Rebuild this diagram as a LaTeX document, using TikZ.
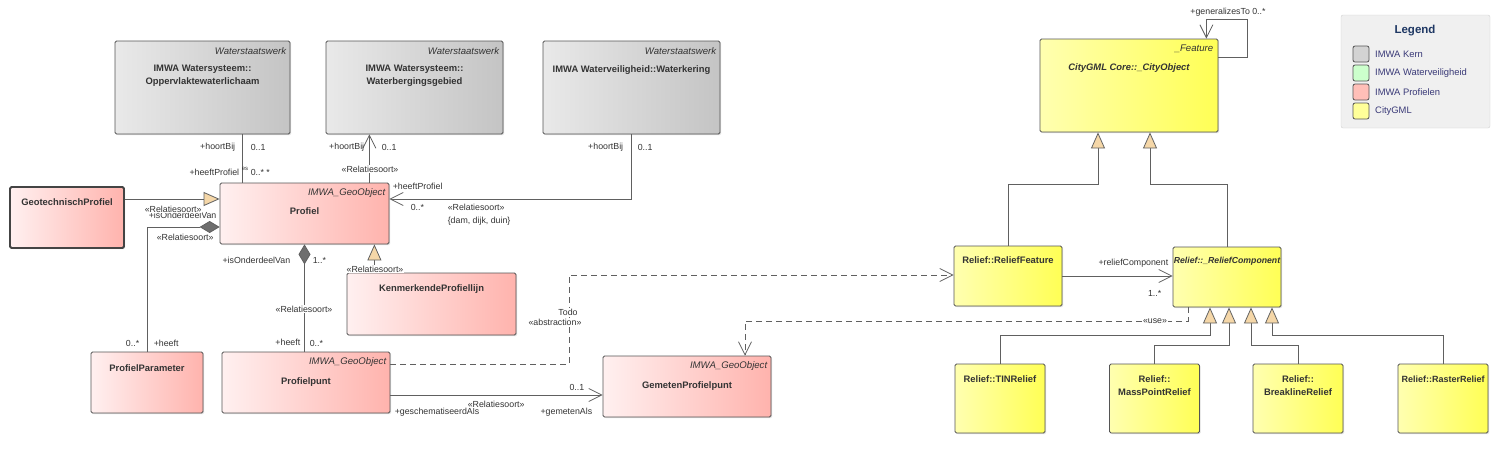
\documentclass[tikz,border=0pt]{standalone}
\usepackage{fontspec}
\setmainfont{Liberation Sans}
\usetikzlibrary{arrows.meta,shadows}
\definecolor{grayL}{HTML}{E9E9E9}
\definecolor{grayR}{HTML}{C4C4C4}
\definecolor{pinkL}{HTML}{FFF0F0}
\definecolor{pinkR}{HTML}{FFB3AD}
\definecolor{yelL}{HTML}{FFFFB0}
\definecolor{yelR}{HTML}{FFFF55}
\definecolor{boxline}{HTML}{555555}
\definecolor{lineclr}{HTML}{606060}
\definecolor{txt}{HTML}{333333}
\definecolor{genfill}{HTML}{F5D7A8}
\definecolor{compfill}{HTML}{6E6E6E}
\definecolor{legbg}{HTML}{F0F0F0}
\definecolor{legline}{HTML}{D0D0D0}
\definecolor{legtitle}{HTML}{1F3864}
\definecolor{legtext}{HTML}{3A3A78}
\definecolor{kern}{HTML}{D3D3D3}
\definecolor{wveil}{HTML}{CCFFCC}
\definecolor{prof}{HTML}{FFBFB8}
\definecolor{citygml}{HTML}{FFFF99}
\tikzset{
  box/.style={draw=boxline, line width=0.8pt, rounded corners=1.5pt, inner sep=0pt,
    drop shadow={shadow xshift=1.2pt, shadow yshift=-1.2pt, opacity=0.25}},
  graybox/.style={box, left color=grayL, right color=grayR},
  pinkbox/.style={box, left color=pinkL, right color=pinkR},
  yellowbox/.style={box, left color=yelL, right color=yelR},
  cname/.style={font=\fontsize{9.4}{13}\selectfont\bfseries, text=txt, align=center, inner sep=0pt},
  stereo/.style={font=\fontsize{9.6}{11}\selectfont\itshape, text=txt, anchor=east, inner sep=0pt},
  lbl/.style={font=\fontsize{8.8}{10}\selectfont, text=txt, inner sep=0.6pt},
  conn/.style={draw=lineclr, line width=0.8pt},
  assoc/.style={conn, -{Straight Barb[length=13pt,width=13pt]}},
  gen/.style={conn, -{Triangle[length=16pt,width=14pt,fill=genfill]}},
  comp/.style={conn, {Diamond[length=20pt,width=12pt,fill=compfill]}-},
  dep/.style={assoc, dash pattern=on 6pt off 4pt},
  swatch/.style={draw=boxline, line width=0.8pt, rounded corners=2pt, minimum width=16pt, minimum height=16pt},
}
\begin{document}
\begin{tikzpicture}[x=1pt,y=-1pt]
\useasboundingbox (0,0) rectangle (1497,463);
% IMWA Kern
\node[graybox, minimum width=175pt, minimum height=93pt] (opp) at (202.5,87.5) {};
\node[stereo] (oppst) at ([xshift=-4pt,yshift=-10pt]opp.north east) {Waterstaatswerk};
\node[cname] (oppnm) at ([yshift=-35.5pt]opp.north) {IMWA Watersysteem::\\Oppervlaktewaterlichaam};
\node[graybox, minimum width=177pt, minimum height=93pt] (wbg) at (414.5,87.5) {};
\node[stereo] (wbgst) at ([xshift=-4pt,yshift=-10pt]wbg.north east) {Waterstaatswerk};
\node[cname] (wbgnm) at ([yshift=-35.5pt]wbg.north) {IMWA Watersysteem::\\Waterbergingsgebied};
\node[graybox, minimum width=177pt, minimum height=93pt] (wk) at (631.5,87.5) {};
\node[stereo] (wkst) at ([xshift=-4pt,yshift=-10pt]wk.north east) {Waterstaatswerk};
\node[cname] (wknm) at ([yshift=-29pt]wk.north) {IMWA Waterveiligheid::Waterkering};
% IMWA Profielen
\node[pinkbox, draw=boxline!80!black, line width=1.8pt, minimum width=114pt, minimum height=61pt] (geo) at (67,217.5) {};
\node[cname] (geonm) at ([yshift=-16pt]geo.north) {GeotechnischProfiel};
\node[pinkbox, minimum width=169pt, minimum height=61pt] (profiel) at (304.5,213.5) {};
\node[stereo] (profielst) at ([xshift=-4pt,yshift=-10pt]profiel.north east) {IMWA\_GeoObject};
\node[cname] (profielnm) at ([yshift=-29pt]profiel.north) {Profiel};
\node[pinkbox, minimum width=169pt, minimum height=62pt] (kpl) at (431.5,304) {};
\node[cname] (kplnm) at ([yshift=-16pt]kpl.north) {KenmerkendeProfiellijn};
\node[pinkbox, minimum width=112pt, minimum height=61pt] (ppar) at (147,382.5) {};
\node[cname] (pparnm) at ([yshift=-17pt]ppar.north) {ProfielParameter};
\node[pinkbox, minimum width=168pt, minimum height=61pt] (ppunt) at (306,382.5) {};
\node[stereo] (ppuntst) at ([xshift=-4pt,yshift=-10pt]ppunt.north east) {IMWA\_GeoObject};
\node[cname] (ppuntnm) at ([yshift=-30pt]ppunt.north) {Profielpunt};
\node[pinkbox, minimum width=168pt, minimum height=61pt] (gpp) at (687,386.5) {};
\node[stereo] (gppst) at ([xshift=-4pt,yshift=-10pt]gpp.north east) {IMWA\_GeoObject};
\node[cname] (gppnm) at ([yshift=-30pt]gpp.north) {GemetenProfielpunt};
% CityGML
\node[yellowbox, minimum width=178pt, minimum height=93pt] (city) at (1129,85.5) {};
\node[stereo] (cityst) at ([xshift=-5pt,yshift=-10pt]city.north east) {\_Feature};
\node[cname, font=\fontsize{9.4}{13}\selectfont\bfseries\itshape] (citynm) at ([yshift=-29pt]city.north) {CityGML Core::\_CityObject};
\node[yellowbox, minimum width=108pt, minimum height=60pt] (rf) at (1008,276) {};
\node[cname] (rfnm) at ([yshift=-15pt]rf.north) {Relief::ReliefFeature};
\node[yellowbox, minimum width=108pt, minimum height=60pt] (rc) at (1227,277) {};
\node[cname, font=\fontsize{8.7}{13}\selectfont\bfseries\itshape] (rcnm) at ([yshift=-15pt]rc.north) {Relief::\_ReliefComponent};
\node[yellowbox, minimum width=90pt, minimum height=69pt] (tin) at (1000,398.5) {};
\node[cname] (tinnm) at ([yshift=-16pt]tin.north) {Relief::TINRelief};
\node[yellowbox, minimum width=90pt, minimum height=69pt] (mpr) at (1154.5,398.5) {};
\node[cname] (mprnm) at ([yshift=-22.5pt]mpr.north) {Relief::\\MassPointRelief};
\node[yellowbox, minimum width=90pt, minimum height=69pt] (blr) at (1298,398.5) {};
\node[cname] (blrnm) at ([yshift=-22.5pt]blr.north) {Relief::\\BreaklineRelief};
\node[yellowbox, minimum width=90pt, minimum height=69pt] (rr) at (1443,398.5) {};
\node[cname, font=\fontsize{9}{13}\selectfont\bfseries] (rrnm) at ([yshift=-16pt]rr.north) {Relief::RasterRelief};
% legend
\node[draw=legline, fill=legbg, rounded corners=2pt, minimum width=149pt, minimum height=113pt] (legend) at (1415.5,71.5) {};
\node[font=\fontsize{11.5}{13}\selectfont\bfseries, text=legtitle] (legendtitle) at (1415,31) {Legend};
\foreach \c/\t [count=\i] in {kern/IMWA Kern, wveil/IMWA Waterveiligheid, prof/IMWA Profielen, citygml/CityGML}
{
  \node[swatch, fill=\c] (sw\i) at (1361,{35+19*\i}) {};
  \node[anchor=west, inner sep=0pt, font=\fontsize{9.4}{10}\selectfont, text=legtext] (swt\i) at (1375,{35+19*\i}) {\t};
}
% connectors
\draw[conn] ([xshift=23pt]profiel.north west |- opp.south) -- ([xshift=23pt]profiel.north west);
\draw[assoc] ([xshift=-20pt]profiel.north east) -- ([xshift=-20pt]profiel.north east |- wbg.south);
\draw[assoc] (wk.south) |- ([yshift=14.5pt]profiel.east);
\draw[gen] ([yshift=14.5pt]profiel.west -| geo.east) -- ([yshift=14.5pt]profiel.west);
\draw[comp] ([yshift=-13.5pt]profiel.west) -| (ppar.north);
\draw[comp] (profiel.south) -- (profiel.south |- ppunt.north);
\draw[gen] ([xshift=-15pt]profiel.south east |- kpl.north) -- ([xshift=-15pt]profiel.south east);
\draw[assoc] ([yshift=-12.5pt]ppunt.east) -- ([yshift=-12.5pt]ppunt.east -| gpp.west);
\coordinate (todobend) at (569,275);
\draw[dep] ([yshift=18.5pt]ppunt.east) -| (todobend) -- (todobend -| rf.west);
\draw[assoc] (rf.east) -- (rf.east -| rc.west);
\coordinate (usebend) at (745,321);
\draw[dep] ([xshift=16pt]rc.south west) |- (usebend) -- (usebend |- gpp.north);
\coordinate (loopcorner) at (1247,19);
\draw[assoc] ([yshift=-19pt]city.north east) -| (loopcorner) -| ([xshift=-12pt]city.north east);
\draw[gen] (rf.north) -- ++(0,-61) -| ([xshift=-31pt]city.south);
\draw[gen] (rc.north) -- ++(0,-62) -| ([xshift=21pt]city.south);
\draw[gen] (tin.north) -- ++(0,-28) -| ([xshift=-17pt]rc.south);
\draw[gen] (mpr.north) -- ++(0,-18) -| ([xshift=2pt]rc.south);
\draw[gen] (blr.north) -- ++(0,-18) -| ([xshift=24pt]rc.south);
\draw[gen] (rr.north) -- ++(0,-28) -| ([xshift=45pt]rc.south);
% labels
\node[lbl, anchor=east] (l1) at (236,147) {+hoortBij};
\node[lbl, anchor=west] (l2) at (250,147) {0..1};
\node[lbl, anchor=east] (l3) at (240,172) {+heeftProfiel};
\node[lbl, anchor=west, font=\fontsize{6}{7}\selectfont] (l4) at (241,169) {es};
\node[lbl, anchor=west] (l5) at (250,172) {0..* *};
\node[lbl, anchor=east] (l6) at (365,147) {+hoortBij};
\node[lbl, anchor=west] (l7) at (381,147) {0..1};
\node[lbl, fill=white] (l8) at (370,169) {«Relatiesoort»};
\node[lbl, anchor=east] (l9) at (624,147) {+hoortBij};
\node[lbl, anchor=west] (l10) at (637,147) {0..1};
\node[lbl, anchor=west] (l11) at (392,186) {+heeftProfiel};
\node[lbl, anchor=west] (l12) at (410,207) {0..*};
\node[lbl, anchor=west] (l13) at (447,207) {«Relatiesoort»};
\node[lbl, anchor=west] (l14) at (447,221) {\{dam, dijk, duin\}};
\node[lbl, anchor=west] (l15) at (148,215) {+isOnderdeelVan};
\node[lbl, anchor=west, fill=white] (l16) at (144,209) {«Relatiesoort»};
\node[lbl, anchor=west] (l17) at (156,237) {«Relatiesoort»};
\node[lbl, anchor=east] (l18) at (140,343) {0..*};
\node[lbl, anchor=west] (l19) at (153,343) {+heeft};
\node[lbl, anchor=east] (l20) at (291,260) {+isOnderdeelVan};
\node[lbl, anchor=west] (l21) at (312,260) {1..*};
\node[lbl, fill=white] (l22) at (304,309) {«Relatiesoort»};
\node[lbl, anchor=east] (l23) at (301,342) {+heeft};
\node[lbl, anchor=west] (l24) at (309,343) {0..*};
\node[lbl, fill=white] (l25) at (375,269) {«Relatiesoort»};
\node[lbl, fill=white] (l26) at (568,312) {Todo};
\node[lbl, fill=white] (l27) at (555,322) {«abstraction»};
\node[lbl, anchor=east] (l28) at (585,387) {0..1};
\node[lbl, anchor=west] (l29) at (394,412) {+geschematiseerdAls};
\node[lbl, anchor=west, fill=white] (l30) at (467,404) {«Relatiesoort»};
\node[lbl, anchor=east] (l31) at (593,412) {+gemetenAls};
\node[lbl, anchor=east] (l32) at (1169,263) {+reliefComponent};
\node[lbl, anchor=east] (l33) at (1162,293) {1..*};
\node[lbl, fill=white] (l34) at (1155,321) {«use»};
\node[lbl] (l35) at (1228,12) {+generalizesTo 0..*};
\end{tikzpicture}
\end{document}
